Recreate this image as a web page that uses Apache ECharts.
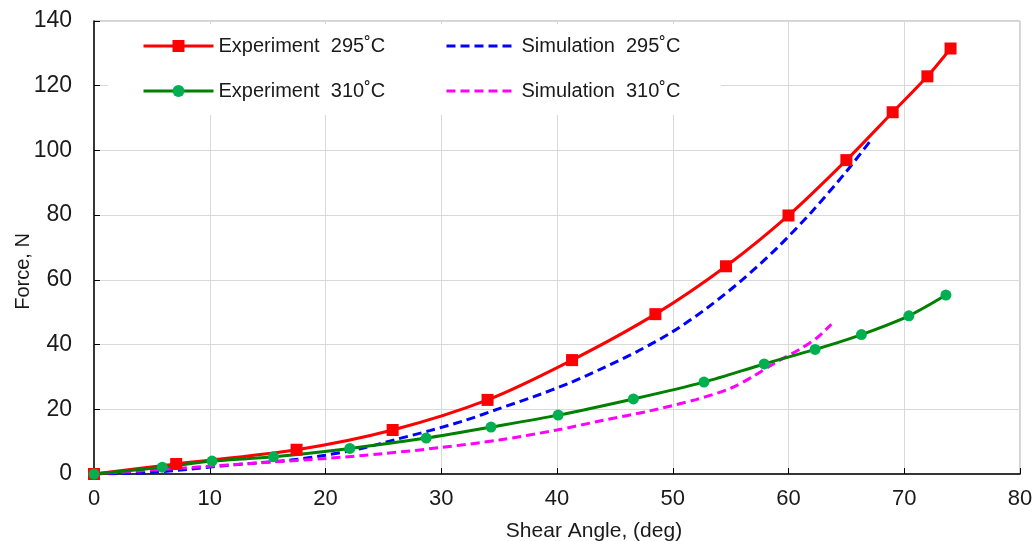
<!DOCTYPE html>
<html><head><meta charset="utf-8">
<script src="https://cdn.jsdelivr.net/npm/echarts@6/dist/echarts.min.js"></script>
<style>html,body{margin:0;padding:0;background:#fff}#c{width:1036px;height:541px}</style>
</head><body><div id="c"></div>
<script>
const xTicks = [0, 10, 20, 30, 40, 50, 60, 70, 80];
const yTicks = [0, 20, 40, 60, 80, 100, 120, 140];

const exp295X = [0, 7.1, 17.5, 25.8, 34.0, 41.3, 48.5, 54.6, 60.0, 65.0, 69.0, 72.0, 74.0];
const exp295Y = [0, 3.1, 7.5, 13.6, 22.9, 35.2, 49.4, 64.2, 79.9, 97.0, 111.8, 122.9, 131.5];

const exp310X = [0, 5.9, 10.2, 15.5, 22.1, 28.7, 34.3, 40.1, 46.6, 52.7, 57.9, 62.3, 66.3, 70.4, 73.6];
const exp310Y = [0, 2.1, 4.0, 5.3, 7.9, 11.1, 14.5, 18.2, 23.2, 28.4, 34.0, 38.5, 43.1, 48.9, 55.3];

const sim295X = [0, 3, 5, 8, 11, 14, 17, 20, 23, 26, 29, 32, 35, 38, 41, 44, 47, 50, 53, 56, 59, 62, 65, 67];
const sim295Y = [0, 0.2, 0.5, 1.4, 2.5, 3.4, 4.3, 5.8, 7.8, 10.6, 13.4, 16.5, 20.2, 23.9, 28.0, 32.8, 38.0, 44.0, 51.4, 60.0, 69.8, 81.0, 93.5, 102.6];

const sim310X = [0, 5, 10, 15, 20, 25, 30, 35, 40, 44, 48, 52, 55, 57, 59, 61, 62.5, 63.7];
const sim310Y = [0, 1.2, 2.4, 3.6, 4.8, 6.3, 8.2, 10.5, 13.6, 16.6, 19.5, 23.0, 26.5, 30.3, 34.7, 38.6, 42.2, 46.3];

const names = ['Experiment  295˚C', 'Simulation  295˚C', 'Experiment  310˚C', 'Simulation  310˚C'];

const pairs = (xs, ys) => xs.map((x, i) => [x, ys[i]]);
const font = 'Liberation Sans, Arial, sans-serif';
const txt = '#1a1a1a';
const legendText = {fontSize: 20, color: txt, fontFamily: font, lineHeight: 22};

const chart = echarts.init(document.getElementById('c'), null, {renderer: 'canvas'});
chart.setOption({
  animation: false,
  backgroundColor: '#fff',
  textStyle: {fontFamily: font},
  grid: {left: 94, right: 16, top: 21, bottom: 67, show: true, borderColor: '#a6a6a6', borderWidth: 1,
         containLabel: false, outerBoundsMode: 'none'},
  graphic: [{type: 'rect', z: 1, shape: {x: 108, y: 24, width: 613, height: 91}, style: {fill: '#fff'}, silent: true}],
  legend: [
    {data: [names[0], names[2]], orient: 'vertical', left: 137, top: 30, itemWidth: 70, itemHeight: 15, itemGap: 23,
     lineStyle: {width: 3}, textStyle: legendText},
    {data: [{name: names[1], itemStyle: {opacity: 0}}, {name: names[3], itemStyle: {opacity: 0}}],
     orient: 'vertical', left: 440, top: 30, itemWidth: 70, itemHeight: 15, itemGap: 23,
     lineStyle: {width: 3}, textStyle: legendText}
  ],
  xAxis: {
    type: 'value', min: xTicks[0], max: xTicks[xTicks.length - 1], interval: 10,
    name: 'Shear Angle, (deg)', nameLocation: 'middle', nameGap: 47, nameMoveOverlap: false,
    nameTextStyle: {fontSize: 21, color: txt, fontFamily: font, padding: [0, 0, 0, 74]},
    axisLine: {show: true, lineStyle: {color: '#000', width: 1.5}},
    axisTick: {show: true, inside: true, length: 6, lineStyle: {color: '#000'}},
    axisLabel: {fontSize: 22, color: txt, margin: 14, fontFamily: font},
    splitLine: {show: true, lineStyle: {color: '#d9d9d9', width: 1}}
  },
  yAxis: {
    type: 'value', min: yTicks[0], max: yTicks[yTicks.length - 1], interval: 20,
    name: 'Force, N', nameLocation: 'middle', nameGap: 61, nameMoveOverlap: false,
    nameTextStyle: {fontSize: 20, color: txt, fontFamily: font, padding: [0, 48, 0, 0]},
    axisLine: {show: true, lineStyle: {color: '#000', width: 1.5}},
    axisTick: {show: true, inside: true, length: 6, lineStyle: {color: '#000'}},
    axisLabel: {fontSize: 23, color: txt, margin: 22, fontFamily: font},
    splitLine: {show: true, lineStyle: {color: '#d9d9d9', width: 1}}
  },
  series: [
    {name: names[0], type: 'line', data: pairs(exp295X, exp295Y), smooth: 0.3, z: 5,
     symbol: 'rect', symbolSize: 12, showAllSymbol: true,
     lineStyle: {color: '#ff0000', width: 3}, itemStyle: {color: '#ff0000'}},
    {name: names[1], type: 'line', data: pairs(sim295X, sim295Y), smooth: 0.3, z: 4,
     symbol: 'none', lineStyle: {color: '#0000ff', width: 3, type: [9, 5]}, itemStyle: {color: '#0000ff'}},
    {name: names[2], type: 'line', data: pairs(exp310X, exp310Y), smooth: 0.3, z: 5,
     symbol: 'circle', symbolSize: 11, showAllSymbol: true,
     lineStyle: {color: '#008000', width: 3}, itemStyle: {color: '#00b050'}},
    {name: names[3], type: 'line', data: pairs(sim310X, sim310Y), smooth: 0.3, z: 4,
     symbol: 'none', lineStyle: {color: '#ff00ff', width: 3, type: [9, 5]}, itemStyle: {color: '#ff00ff'}}
  ]
});
</script>
</body></html>
